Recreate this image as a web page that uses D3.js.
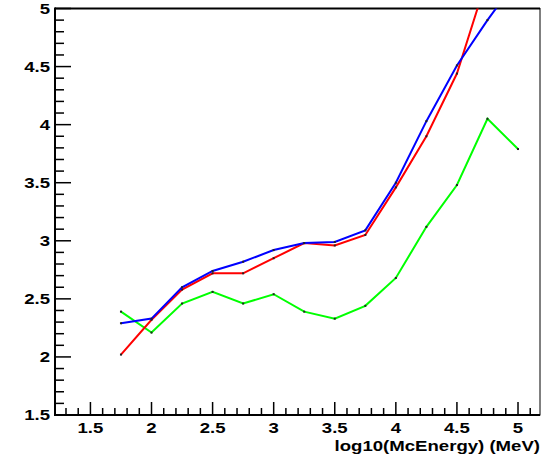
<!DOCTYPE html>
<meta charset="utf-8">
<style>
body { margin: 0; background: #fff; }
text { font-family: "Liberation Sans", Arial, Helvetica, sans-serif; font-weight: bold; fill: #000; }
</style>
<svg width="542" height="459"></svg>
<script src="https://d3js.org/d3.v7.min.js"></script>
<script>

var energy = [1.75, 2.0, 2.25, 2.5, 2.75, 3.0, 3.25, 3.5, 3.75, 4.0, 4.25, 4.5, 4.75, 5.0];
var blueVals  = [2.29, 2.33, 2.60, 2.74, 2.82, 2.92, 2.98, 2.99, 3.09, 3.50, 4.03, 4.51, 4.90, 5.26];
var redVals   = [2.02, 2.32, 2.58, 2.72, 2.72, 2.85, 2.98, 2.96, 3.05, 3.46, 3.90, 4.44, 5.27, 5.70];
var greenVals = [2.39, 2.21, 2.46, 2.56, 2.46, 2.54, 2.39, 2.33, 2.44, 2.68, 3.12, 3.48, 4.05, 3.79];
var xTicks = [1.5, 2, 2.5, 3, 3.5, 4, 4.5, 5];
var yTicks = [1.5, 2, 2.5, 3, 3.5, 4, 4.5, 5];
var xTitle = "log10(McEnergy) (MeV)";

var svg = d3.select("svg");
var padL = 55, padR = 540, padT = 8.5, padB = 415;
var stretch = 1.24; // the picture is wider than it is tall, text gets stretched too

var x = d3.scaleLinear().domain([1.21, 5.18]).range([padL, padR]);
var y = d3.scaleLinear().domain([1.5, 5]).range([padB, padT]);

svg.append("clipPath").attr("id", "clip")
  .append("rect").attr("x", padL).attr("y", padT)
  .attr("width", padR - padL).attr("height", padB - padT);

// frame
svg.append("rect").attr("x", padL).attr("y", padT)
  .attr("width", padR - padL).attr("height", padB - padT)
  .attr("fill", "none").attr("stroke", "#000").attr("stroke-width", 1);

function isMajor(d) { return Math.abs(d * 2 - Math.round(d * 2)) < 1e-6; }

// ticks, pointing inwards like ROOT
var xMinor = d3.range(13, 52).map(function(d) { return d / 10; });
svg.append("g").selectAll("line").data(xMinor).enter().append("line")
  .attr("x1", function(d) { return x(d); }).attr("x2", function(d) { return x(d); })
  .attr("y1", padB).attr("y2", function(d) { return isMajor(d) ? padB - 13 : padB - 7; })
  .attr("stroke", "#000").attr("stroke-width", 1.5);

var yMinor = d3.range(15, 51).map(function(d) { return d / 10; });
svg.append("g").selectAll("line").data(yMinor).enter().append("line")
  .attr("y1", function(d) { return y(d); }).attr("y2", function(d) { return y(d); })
  .attr("x1", padL).attr("x2", function(d) { return isMajor(d) ? padL + 16 : padL + 9; })
  .attr("stroke", "#000").attr("stroke-width", 1.5);

// axis lines
svg.append("line").attr("x1", padL).attr("x2", padL).attr("y1", padT - 1).attr("y2", padB + 1)
  .attr("stroke", "#000").attr("stroke-width", 2);
svg.append("line").attr("x1", padL - 1).attr("x2", padR).attr("y1", padB).attr("y2", padB)
  .attr("stroke", "#000").attr("stroke-width", 2);
svg.append("line").attr("x1", padL).attr("x2", padR).attr("y1", padT).attr("y2", padT)
  .attr("stroke", "#000").attr("stroke-width", 2);

function place(px, py) { return "translate(" + px + "," + py + ") scale(" + stretch + ",1)"; }

svg.append("g").selectAll("text").data(xTicks).enter().append("text")
  .attr("transform", function(d) { return place(x(d), 433); })
  .attr("text-anchor", "middle").attr("font-size", 15)
  .text(function(d) { return d; });

svg.append("g").selectAll("text").data(yTicks).enter().append("text")
  .attr("transform", function(d) { return place(50, y(d) + 5.4); })
  .attr("text-anchor", "end").attr("font-size", 15)
  .text(function(d) { return d; });

svg.append("text").attr("transform", place(540, 451))
  .attr("text-anchor", "end").attr("font-size", 15)
  .text(xTitle);

var line = d3.line().x(function(d) { return x(d[0]); }).y(function(d) { return y(d[1]); });
var series = [
  { vals: greenVals, color: "#00ff00" },
  { vals: redVals, color: "#ff0000" },
  { vals: blueVals, color: "#0000ff" }
];

var plot = svg.append("g").attr("clip-path", "url(#clip)");
series.forEach(function(s) {
  var pts = energy.map(function(e, i) { return [e, s.vals[i]]; });
  plot.append("path").attr("d", line(pts))
    .attr("fill", "none").attr("stroke", s.color).attr("stroke-width", 2);
  plot.selectAll(null).data(pts).enter().append("rect")
    .attr("x", function(d) { return x(d[0]) - 1; })
    .attr("y", function(d) { return y(d[1]) - 1; })
    .attr("width", 2).attr("height", 2).attr("fill", "#222");
});

</script>
